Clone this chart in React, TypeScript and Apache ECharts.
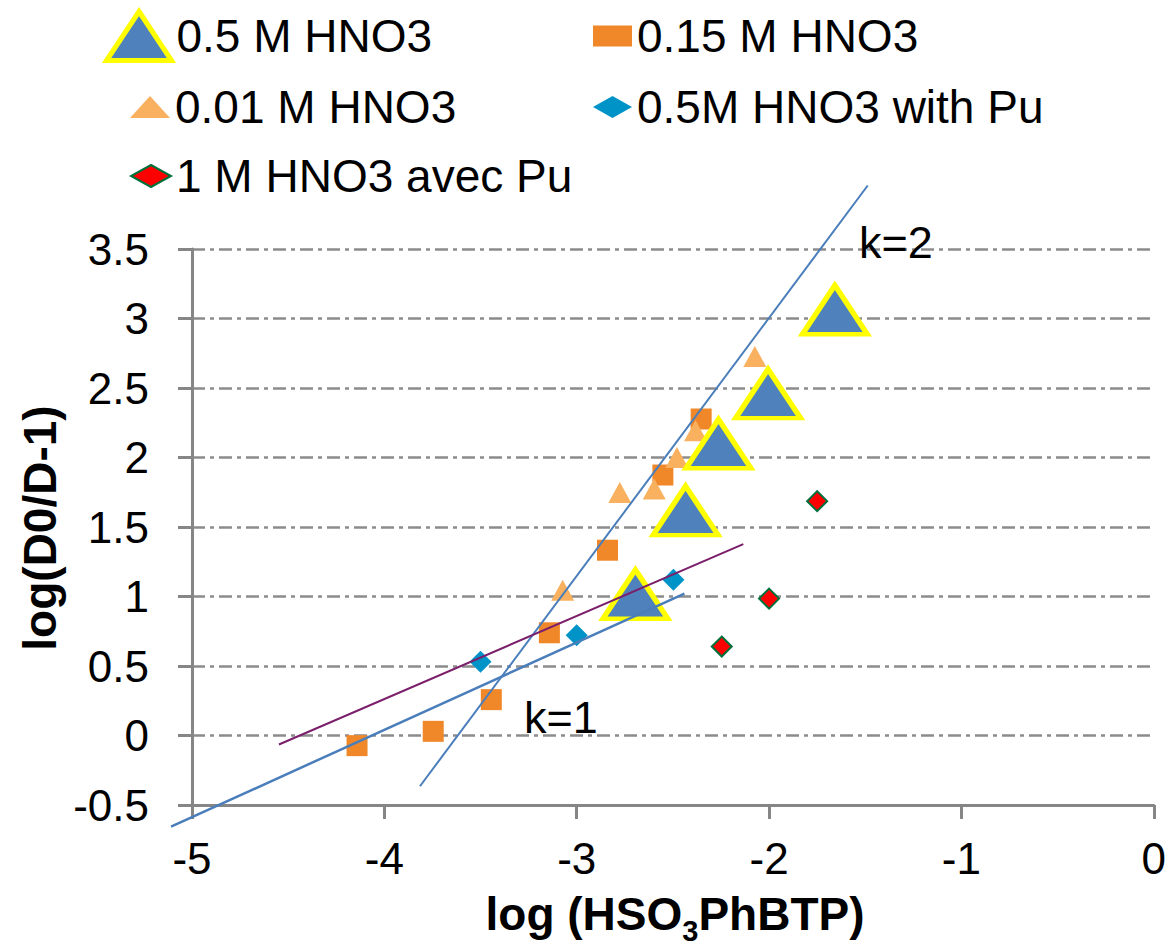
import React, { useEffect, useRef } from "react";
import * as echarts from "echarts";

// ---- data ----
const seriesNames = ["0.5 M HNO3", "0.15 M HNO3", "0.01 M HNO3", "0.5M HNO3 with Pu", "1 M HNO3 avec Pu"];

const hno3_05_x = [-2.695, -2.434, -2.263, -2.005, -1.658];
const hno3_05_y = [1.016, 1.618, 2.099, 2.459, 3.063];

const hno3_015_x = [-4.142, -3.746, -3.444, -3.142, -2.84, -2.552, -2.353];
const hno3_015_y = [-0.073, 0.03, 0.258, 0.739, 1.333, 1.874, 2.277];

const hno3_001_x = [-3.073, -2.776, -2.597, -2.479, -2.382, -2.074];
const hno3_001_y = [1.045, 1.748, 1.773, 2.0, 2.192, 2.727];

const pu05_x = [-3.5, -3.0, -2.497];
const pu05_y = [0.531, 0.721, 1.12];

const pu1_x = [-2.246, -2.0, -1.75];
const pu1_y = [0.64, 0.985, 1.686];

// guide lines: [x1, y1, x2, y2]
const lineK2 = [-3.815, -0.365, -1.487, 3.957];
const lineK1 = [-5.109, -0.656, -2.44, 1.021];
const linePurple = [-4.548, -0.065, -2.134, 1.377];

const xTicks = { min: -5, max: 0, interval: 1 };
const yTicks = { min: -0.5, max: 3.5, interval: 0.5 };

const zip = (xs: number[], ys: number[]) => xs.map((x, i) => [x, ys[i]]);

const FONT = "'Liberation Sans', Arial, sans-serif";

const styles = {
  s05: { color: "#4f81bd", borderColor: "#ffff00", borderWidth: 5, opacity: 1 },
  s015: { color: "#f0882a", borderWidth: 0, opacity: 1 },
  s001: { color: "#f9b15f", borderWidth: 0, opacity: 1 },
  pu05: { color: "#0093c8", borderWidth: 0, opacity: 1 },
  pu1: { color: "#ff0000", borderColor: "#00703c", borderWidth: 2, opacity: 1 },
};

const guideLine = (name: string, seg: number[], color: string, width: number) => ({
  name,
  type: "custom",
  clip: false,
  silent: true,
  z: 7,
  encode: { x: [0, 2], y: [1, 3] },
  data: [seg],
  renderItem: (_params: any, api: any) => {
    const p1 = api.coord([api.value(0), api.value(1)]);
    const p2 = api.coord([api.value(2), api.value(3)]);
    return {
      type: "line",
      shape: { x1: p1[0], y1: p1[1], x2: p2[0], y2: p2[1] },
      style: { stroke: color, lineWidth: width, fill: null },
    };
  },
});

export default function App() {
  const ref = useRef<HTMLDivElement>(null);

  useEffect(() => {
    document.body.style.margin = "0";
    const chart = echarts.init(ref.current!, undefined, { renderer: "svg" });

    const legendBase = {
      orient: "horizontal" as const,
      padding: 0,
      itemGap: 0,
      textStyle: { fontSize: 46, fontFamily: FONT, color: "#000" },
      selectedMode: false,
    };

    const option: any = {
      animation: false,
      backgroundColor: "#fff",
      grid: { left: 192, right: 11, top: 249, bottom: 143, containLabel: false },
      legend: [
        {
          ...legendBase,
          left: 104,
          top: 9,
          itemWidth: 65,
          itemHeight: 49,
          symbolKeepAspect: false,
          data: [{ name: seriesNames[0], icon: "triangle", itemStyle: styles.s05 }],
        },
        {
          ...legendBase,
          left: 593,
          top: 13,
          itemWidth: 39,
          itemHeight: 21,
          data: [{ name: seriesNames[1], icon: "rect", itemStyle: styles.s015 }],
        },
        {
          ...legendBase,
          left: 130,
          top: 84,
          itemWidth: 40,
          itemHeight: 22,
          data: [{ name: seriesNames[2], icon: "triangle", itemStyle: styles.s001 }],
        },
        {
          ...legendBase,
          left: 593,
          top: 84,
          itemWidth: 39,
          itemHeight: 22,
          data: [{ name: seriesNames[3], icon: "diamond", itemStyle: styles.pu05 }],
        },
        {
          ...legendBase,
          left: 130,
          top: 153,
          itemWidth: 40,
          itemHeight: 22,
          data: [{ name: seriesNames[4], icon: "diamond", itemStyle: styles.pu1 }],
        },
      ],
      xAxis: {
        type: "value",
        min: xTicks.min,
        max: xTicks.max,
        interval: xTicks.interval,
        axisLine: { show: true, onZero: false, lineStyle: { color: "#868686", width: 3 } },
        axisTick: { show: true, inside: false, length: 14, lineStyle: { color: "#868686", width: 3 } },
        axisLabel: { fontSize: 44, fontFamily: FONT, color: "#000", margin: 31 },
        splitLine: { show: false },
      },
      yAxis: {
        type: "value",
        min: yTicks.min,
        max: yTicks.max,
        interval: yTicks.interval,
        axisLine: { show: true, onZero: false, lineStyle: { color: "#868686", width: 3 } },
        axisTick: { show: true, inside: false, length: 14, lineStyle: { color: "#868686", width: 3 } },
        axisLabel: { fontSize: 44, fontFamily: FONT, color: "#000", margin: 43 },
        splitLine: {
          show: true,
          lineStyle: { color: "#8c8c8c", width: 2.5, type: [13, 5, 4, 5] },
        },
      },
      series: [
        {
          name: seriesNames[1],
          type: "scatter",
          symbol: "rect",
          symbolSize: 21,
          itemStyle: styles.s015,
          data: zip(hno3_015_x, hno3_015_y),
          z: 2,
        },
        {
          name: seriesNames[2],
          type: "scatter",
          symbol: "triangle",
          symbolSize: [23, 21],
          itemStyle: styles.s001,
          data: zip(hno3_001_x, hno3_001_y),
          z: 3,
        },
        {
          name: seriesNames[3],
          type: "scatter",
          symbol: "diamond",
          symbolSize: 22,
          itemStyle: styles.pu05,
          data: zip(pu05_x, pu05_y),
          z: 4,
        },
        {
          name: seriesNames[4],
          type: "scatter",
          symbol: "diamond",
          symbolSize: 20,
          itemStyle: styles.pu1,
          data: zip(pu1_x, pu1_y),
          z: 5,
        },
        {
          name: seriesNames[0],
          type: "scatter",
          symbol: "triangle",
          symbolSize: [65, 49],
          symbolKeepAspect: false,
          itemStyle: styles.s05,
          data: zip(hno3_05_x, hno3_05_y),
          z: 6,
        },
        guideLine("k2", lineK2, "#4a7ebb", 2),
        guideLine("k1", lineK1, "#4a7ebb", 2.5),
        guideLine("purple", linePurple, "#7b1f6b", 2),
      ],
      graphic: [
        {
          type: "text",
          x: 896,
          y: 242,
          z: 10,
          style: { text: "k=2", font: `45px ${FONT}`, fill: "#000", align: "center", verticalAlign: "middle" },
        },
        {
          type: "text",
          x: 561,
          y: 717,
          z: 10,
          style: { text: "k=1", font: `45px ${FONT}`, fill: "#000", align: "center", verticalAlign: "middle" },
        },
        {
          type: "text",
          x: 40,
          y: 528,
          rotation: Math.PI / 2,
          style: {
            text: "log(D0/D-1)",
            font: `bold 46px ${FONT}`,
            fill: "#000",
            align: "center",
            verticalAlign: "middle",
          },
        },
        {
          type: "text",
          x: 675,
          y: 913,
          style: {
            text: "{a|log (HSO}{b|3}{a|PhBTP)}",
            align: "center",
            verticalAlign: "middle",
            rich: {
              a: { fontSize: 46, fontWeight: "bold", fontFamily: FONT, fill: "#000", lineHeight: 48, verticalAlign: "bottom" },
              b: { fontSize: 29, fontWeight: "bold", fontFamily: FONT, fill: "#000", lineHeight: 48, verticalAlign: "bottom", padding: [0, 0, -8, 0] },
            },
          },
        },
      ],
    };

    chart.setOption(option);
    return () => chart.dispose();
  }, []);

  return <div ref={ref} style={{ width: 1169, height: 948 }} />;
}
